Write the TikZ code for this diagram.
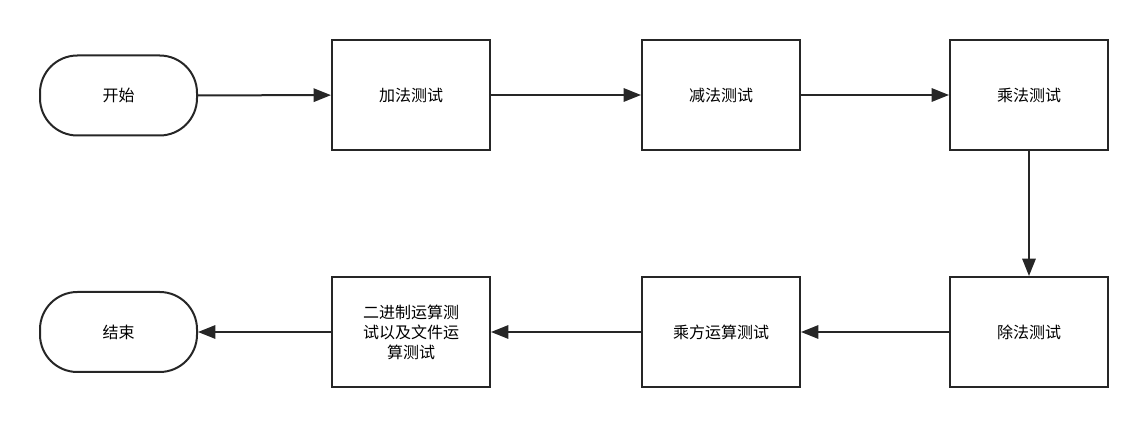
\documentclass[tikz,border=0pt]{standalone}
\usepackage{fontspec}
\setmainfont{Noto Sans CJK SC}
\usetikzlibrary{arrows.meta}
\begin{document}
\begin{tikzpicture}[x=0.75pt,y=-0.75pt,
  box/.style={draw=black!85,line width=1.5pt,minimum width=118.5pt,minimum height=82.5pt,inner sep=0pt,font=\fontsize{12}{15}\selectfont,align=center},
  term/.style={draw=black!85,line width=1.5pt,rounded corners=28pt,minimum width=117.75pt,minimum height=60pt,inner sep=0pt,font=\fontsize{12}{15}\selectfont},
  arr/.style={draw=black!85,line width=1.5pt,-{Triangle[length=13pt,width=10pt]}}]
\useasboundingbox (0,0) rectangle (1147,427);
\node[term] (s) at (118.5,95.5) {开始};
\node[box] (a) at (411,95) {加法测试};
\node[box] (b) at (721,95) {减法测试};
\node[box] (c) at (1029,95) {乘法测试};
\node[box] (d) at (1029,332) {除法测试};
\node[box] (e) at (721,332) {乘方运算测试};
\node[box] (f) at (411,332) {二进制运算测\\试以及文件运\\算测试};
\node[term] (g) at (118.5,332) {结束};
\draw[arr] (s) -- (a);
\draw[arr] (a) -- (b);
\draw[arr] (b) -- (c);
\draw[arr] (c) -- (d);
\draw[arr] (d) -- (e);
\draw[arr] (e) -- (f);
\draw[arr] (f) -- (g);
\end{tikzpicture}
\end{document}
